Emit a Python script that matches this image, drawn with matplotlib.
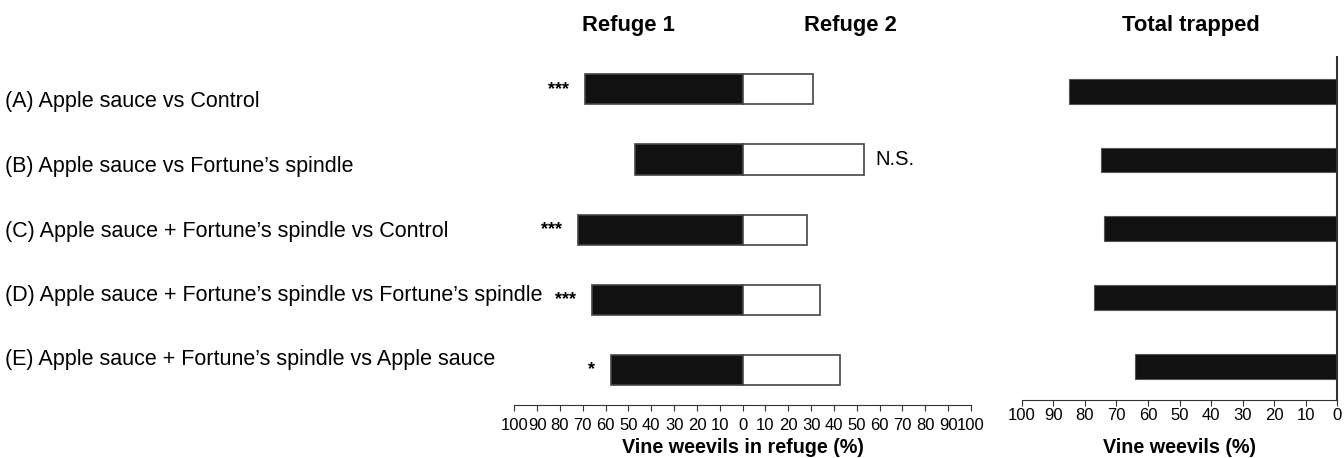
import matplotlib.pyplot as plt
import matplotlib.transforms as mtransforms
from matplotlib.ticker import FuncFormatter

plt.rcParams['font.family'] = ['Liberation Sans', 'DejaVu Sans']

# data
labels = ['(A) Apple sauce vs Control',
          '(B) Apple sauce vs Fortune\u2019s spindle',
          '(C) Apple sauce + Fortune\u2019s spindle vs Control',
          '(D) Apple sauce + Fortune\u2019s spindle vs Fortune\u2019s spindle',
          '(E) Apple sauce + Fortune\u2019s spindle vs Apple sauce']
refuge1 = [69, 47, 72, 66, 57.5]
refuge2 = [31, 53, 28, 34, 42.5]
signif = ['***', 'N.S.', '***', '***', '*']
total = [85, 75, 74, 77, 64]

W, H = 13.44, 4.58
fig = plt.figure(figsize=(W, H), dpi=100)

def box(x0, x1, y0, y1):
    # pixel box -> figure fraction
    return [x0 / 1344, 1 - y1 / 458, (x1 - x0) / 1344, (y1 - y0) / 458]

ax1 = fig.add_axes(box(514.3, 971, 57, 405))
ax2 = fig.add_axes(box(1021.7, 1337.3, 57, 400))

ypos = list(range(len(labels)))

ax1.barh(ypos, [-v for v in refuge1], height=0.43, color='#111111', edgecolor='#444444', linewidth=1.2)
ax1.barh(ypos, refuge2, height=0.43, color='white', edgecolor='#444444', linewidth=1.2)
ax1.set_xlim(-100, 100)
ax1.set_ylim(4.5, -0.46)
ax1.set_xticks(range(-100, 101, 10))
ax1.xaxis.set_major_formatter(FuncFormatter(lambda v, p: '%d' % abs(v)))
for s in ['top', 'left', 'right']:
    ax1.spines[s].set_visible(False)
ax1.spines['bottom'].set_color('#333333')
ax1.set_yticks([])
ax1.tick_params(axis='x', direction='out', length=4, labelsize=12, pad=5, color='#333333')
ax1.set_xlabel('Vine weevils in refuge (%)', fontsize=14.2, fontweight='bold')
ax1.xaxis.set_label_coords(0.5, 1 - 438 / 458,
                           transform=mtransforms.blended_transform_factory(ax1.transAxes, fig.transFigure))

for i, s in enumerate(signif):
    if s == 'N.S.':
        ax1.text(refuge2[i] + 5, i, s, ha='left', va='center', fontsize=14.5)
    else:
        ax1.text(-refuge1[i] - 7, i, s, ha='right', va='center', fontsize=13, fontweight='bold')

ax2.barh(ypos, total, height=0.36, color='#111111', edgecolor='#555555', linewidth=0.8)
ax2.set_xlim(100, 0)
ax2.set_ylim(4.49, -0.5)
ax2.set_xticks(range(100, -1, -10))
for s in ['top', 'left']:
    ax2.spines[s].set_visible(False)
ax2.spines['bottom'].set_color('#333333')
ax2.spines['right'].set_color('#333333')
ax2.spines['right'].set_linewidth(1.5)
ax2.set_yticks([])
ax2.tick_params(axis='x', direction='out', length=4, labelsize=12, pad=2, color='#333333')
ax2.set_xlabel('Vine weevils (%)', fontsize=14.2, fontweight='bold')
ax2.xaxis.set_label_coords(0.5, 1 - 438 / 458,
                           transform=mtransforms.blended_transform_factory(ax2.transAxes, fig.transFigure))

# panel headings
ty = 1 - 26 / 458
fig.text(628 / 1344, ty, 'Refuge 1', ha='center', va='center', fontsize=15.8, fontweight='bold')
fig.text(850 / 1344, ty, 'Refuge 2', ha='center', va='center', fontsize=15.8, fontweight='bold')
fig.text(1191 / 1344, ty, 'Total trapped', ha='center', va='center', fontsize=15.8, fontweight='bold')

for i, lab in enumerate(labels):
    fig.text(5 / 1344, 1 - (102 + i * 64.5) / 458, lab, ha='left', va='center', fontsize=15.5)

fig.savefig('out.png', dpi=100)
